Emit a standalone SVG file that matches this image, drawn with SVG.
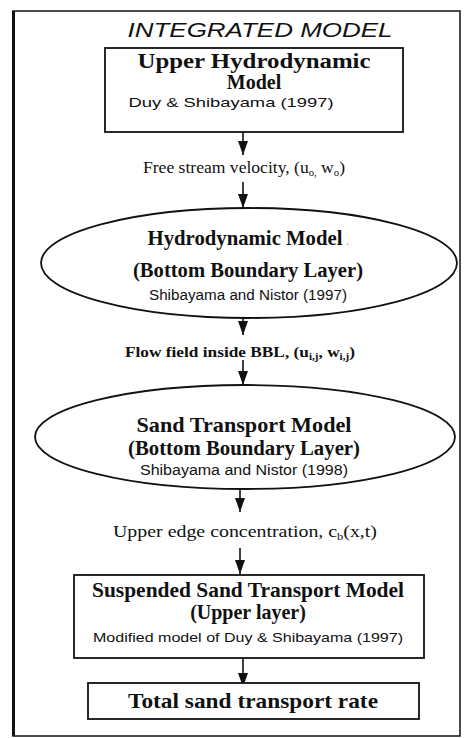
<svg xmlns="http://www.w3.org/2000/svg" width="473" height="738" viewBox="0 0 473 738">
<defs>
<marker id="ah" markerWidth="14" markerHeight="10" refX="14" refY="5" orient="auto" markerUnits="userSpaceOnUse" viewBox="0 0 14 10">
<path d="M0,0 L14,5 L0,10 Z" fill="#111"/>
</marker>
</defs>
<style>
.frame{fill:none;stroke:#111;stroke-width:1.5}
.node{fill:#fff;stroke:#111;stroke-width:1.8}
.tb{font-family:"Liberation Serif",serif;font-weight:bold;fill:#111;text-anchor:middle}
.tr{font-family:"Liberation Serif",serif;fill:#111;text-anchor:middle}
.ts{font-family:"Liberation Sans",sans-serif;fill:#111;text-anchor:middle}
.edge{stroke:#111;stroke-width:1.6;fill:none;marker-end:url(#ah)}
</style>
<rect width="473" height="738" fill="#fff"/>
<g id="frame">
<rect class="frame" x="13" y="11" width="447" height="725"/>
<line x1="13.5" y1="11" x2="13.5" y2="736" stroke="#111" stroke-width="3"/>
<text x="260" y="37" font-family="Liberation Sans,sans-serif" font-style="italic" font-size="20" fill="#111" text-anchor="middle" textLength="265" lengthAdjust="spacingAndGlyphs">INTEGRATED MODEL</text>
</g>
<g id="connectors">
<line class="edge" x1="243" y1="132" x2="243" y2="155"/>
<line class="edge" x1="243" y1="182" x2="243" y2="208"/>
<line class="edge" x1="243" y1="318" x2="243" y2="335"/>
<line class="edge" x1="243" y1="360" x2="243" y2="385"/>
<line class="edge" x1="240" y1="489" x2="240" y2="512"/>
<line class="edge" x1="240" y1="548" x2="240" y2="574"/>
<line class="edge" x1="243" y1="658" x2="243" y2="687"/>
</g>
<g id="upper-hydro">
<rect class="node" x="105" y="48" width="298" height="84"/>
<text class="tb" x="254" y="68" font-size="20" textLength="233" lengthAdjust="spacingAndGlyphs">Upper Hydrodynamic</text>
<text class="tb" x="254" y="89" font-size="20">Model</text>
<text class="ts" x="231" y="107" font-size="13.5" textLength="205" lengthAdjust="spacingAndGlyphs">Duy &amp; Shibayama (1997)</text>
</g>
<g id="label-free-stream">
<text class="tr" x="244" y="173" font-size="16.5" textLength="202" lengthAdjust="spacingAndGlyphs">Free stream velocity, (u<tspan font-size="10" dy="3">o,</tspan><tspan dy="-3"> w</tspan><tspan font-size="10" dy="3">o</tspan><tspan dy="-3">)</tspan></text>
</g>
<g id="hydro-bbl">
<ellipse class="node" cx="249" cy="263" rx="208" ry="55"/>
<text class="tb" x="245" y="245" font-size="20" textLength="195" lengthAdjust="spacingAndGlyphs">Hydrodynamic Model</text>
<text x="346" y="245" font-family="Liberation Serif,serif" font-size="12" fill="#999">.</text>
<text class="tb" x="248" y="277" font-size="20" textLength="230" lengthAdjust="spacingAndGlyphs">(Bottom Boundary Layer)</text>
<text class="ts" x="248" y="300" font-size="14" textLength="198" lengthAdjust="spacingAndGlyphs">Shibayama and Nistor (1997)</text>
</g>
<g id="label-flow-field">
<text class="tb" x="240" y="357" font-size="15.5" textLength="230" lengthAdjust="spacingAndGlyphs">Flow field inside BBL, (u<tspan font-size="10" dy="3">i,j</tspan><tspan dy="-3">, w</tspan><tspan font-size="10" dy="3">i,j</tspan><tspan dy="-3">)</tspan></text>
</g>
<g id="sand-bbl">
<ellipse class="node" cx="245" cy="437" rx="210" ry="52"/>
<text class="tb" x="244" y="432" font-size="21" textLength="215" lengthAdjust="spacingAndGlyphs">Sand Transport Model</text>
<text class="tb" x="244" y="455" font-size="20" textLength="232" lengthAdjust="spacingAndGlyphs">(Bottom Boundary Layer)</text>
<text class="ts" x="244" y="475" font-size="14" textLength="208" lengthAdjust="spacingAndGlyphs">Shibayama and Nistor (1998)</text>
</g>
<g id="label-upper-edge">
<text class="tr" x="245" y="537" font-size="16" textLength="264" lengthAdjust="spacingAndGlyphs">Upper edge concentration, c<tspan font-size="10" dy="3">b</tspan><tspan dy="-3">(x,t)</tspan></text>
</g>
<g id="suspended">
<rect class="node" x="74" y="575" width="350" height="83"/>
<text class="tb" x="248" y="597" font-size="20" textLength="312" lengthAdjust="spacingAndGlyphs">Suspended Sand Transport Model</text>
<text class="tb" x="248" y="619" font-size="20">(Upper layer)</text>
<text class="ts" x="248" y="642" font-size="13.5" textLength="310" lengthAdjust="spacingAndGlyphs">Modified model of Duy &amp; Shibayama (1997)</text>
</g>
<g id="total">
<rect class="node" x="88" y="683" width="331" height="36"/>
<text class="tb" x="253" y="708" font-size="21" textLength="250" lengthAdjust="spacingAndGlyphs">Total sand transport rate</text>
</g>
</svg>
